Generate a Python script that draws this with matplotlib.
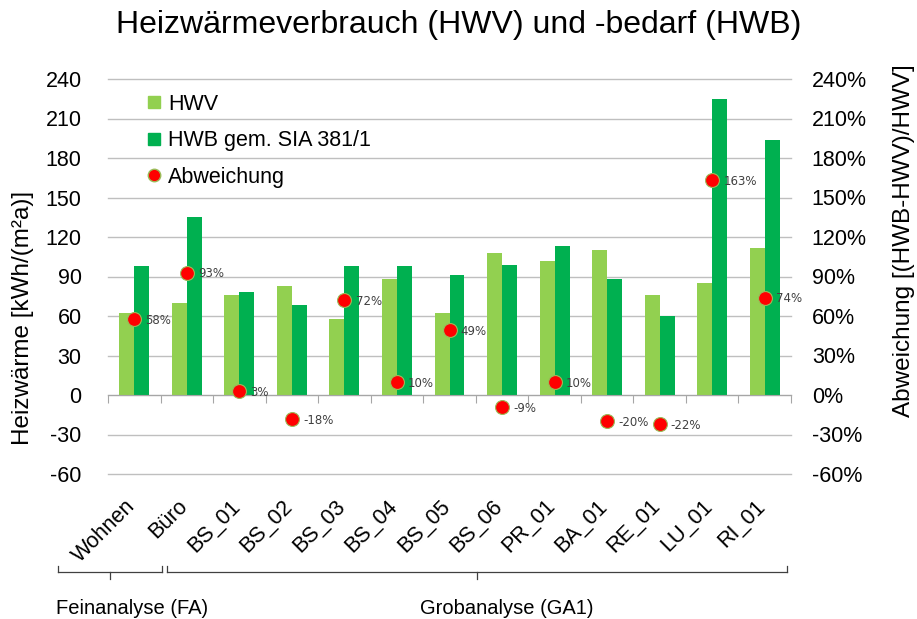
#!/usr/bin/env python3
import numpy as np
import matplotlib
matplotlib.use('Agg')
import matplotlib.pyplot as plt
import matplotlib.ticker as mticker
import matplotlib.transforms as mtrans
from matplotlib.lines import Line2D

plt.rcParams['font.family'] = ['Liberation Sans', 'DejaVu Sans']
plt.rcParams['axes.unicode_minus'] = False

# Daten
categories = ['Wohnen', 'Büro', 'BS_01', 'BS_02', 'BS_03', 'BS_04', 'BS_05',
              'BS_06', 'PR_01', 'BA_01', 'RE_01', 'LU_01', 'RI_01']
hwv = [62, 70, 76, 83, 58, 88, 62, 108, 102, 110, 76, 85, 112]
hwb = [98, 135, 78, 68, 98, 98, 91, 99, 113, 88, 60, 225, 194]
abweichung = [58, 93, 3, -18, 72, 10, 49, -9, 10, -20, -22, 163, 74]
yticks = [-60, -30, 0, 30, 60, 90, 120, 150, 180, 210, 240]

# Gruppen (Feinanalyse / Grobanalyse), x in Kategorie-Einheiten
group_labels = ['Feinanalyse (FA)', 'Grobanalyse (GA1)']
group_spans = [(-1.45, 0.53), (0.62, 12.42)]
group_ticks = [-0.46, 6.52]
group_text_x = [-0.04, 7.09]

c_hwv = '#92D050'
c_hwb = '#00B050'
c_grid = '#BFBFBF'

W, H = 917, 619
fig = plt.figure(figsize=(W / 100, H / 100), dpi=100)
ax = fig.add_axes([108 / W, 1 - 474 / H, (791 - 108) / W, (474 - 79) / H])

x = np.arange(len(categories))
bw = 0.285
ax.bar(x - bw / 2, hwv, width=bw, color=c_hwv, label='HWV', zorder=3)
ax.bar(x + bw / 2, hwb, width=bw, color=c_hwb, label='HWB gem. SIA 381/1',
       zorder=3)

ax.set_xlim(-0.5, len(categories) - 0.5)
ax.set_ylim(-60, 240)
ax.set_yticks(yticks)
ax.yaxis.grid(True, color=c_grid, linewidth=1.0, zorder=0)
for gl in ax.get_ygridlines():
    gl.set_clip_on(False)
ax.set_axisbelow(True)
for s in ['top', 'left', 'right']:
    ax.spines[s].set_visible(False)
ax.spines['bottom'].set_position(('data', 0))
ax.spines['bottom'].set_color('#A6A6A6')
ax.spines['bottom'].set_zorder(4)
ax.set_xticks(np.arange(-0.5, len(categories), 1.0))
ax.xaxis.set_major_formatter(mticker.NullFormatter())
ax.tick_params(axis='x', direction='out', length=6, color='#A6A6A6')
ax.tick_params(axis='y', length=0, labelsize=15.5, pad=19, colors='black')
ax.set_ylabel('Heizwärme [kWh/(m²a)]', fontsize=17.5, va='center')
ax.yaxis.set_label_coords((23 - 108) / 683, (474 - 318) / 395)

# Kategorien (gedreht)
trans_x = mtrans.blended_transform_factory(ax.transData, fig.transFigure)
for i, c in enumerate(categories):
    ax.text(i - 0.05, 1 - 503 / H, c, transform=trans_x, rotation=45,
            rotation_mode='anchor', ha='right', va='center', fontsize=15.5)

# Gruppenklammern
y_top = 1 - 566 / H
y_mid = 1 - 572 / H
y_bot = 1 - 579 / H
for (x0, x1), xm, xt, lab in zip(group_spans, group_ticks, group_text_x,
                                 group_labels):
    for xs, ys in [([x0, x0], [y_top, y_mid]), ([x1, x1], [y_top, y_mid]),
                   ([x0, x1], [y_mid, y_mid]), ([xm, xm], [y_mid, y_bot])]:
        ax.add_line(Line2D(xs, ys, transform=trans_x, color='#404040',
                           linewidth=0.9, clip_on=False))
    ax.text(xt, 1 - 608 / H, lab, transform=trans_x, ha='center',
            va='center', fontsize=14.5)

# Abweichung (rechte Achse)
ax2 = ax.twinx()
ax2.set_ylim(-60, 240)
ax2.set_yticks(yticks)
ax2.yaxis.set_major_formatter(mticker.PercentFormatter(decimals=0))
for s in ['top', 'left', 'right', 'bottom']:
    ax2.spines[s].set_visible(False)
ax2.tick_params(axis='y', length=0, labelsize=15.5, pad=15)
ax2.plot(x, abweichung, 'o', color='#FF0000', markersize=10,
         markeredgecolor='#9BBB59', markeredgewidth=0.8, label='Abweichung',
         zorder=5)
for xi, a in zip(x, abweichung):
    ax2.annotate('%d%%' % a, (xi, a), xytext=(8, -1), textcoords='offset points',
                 ha='left', va='center', fontsize=8.5, color='#404040',
                 family=['DejaVu Sans'])
ax2.set_ylabel('Abweichung [(HWB-HWV)/HWV]', fontsize=17.5, va='center')
ax2.yaxis.set_label_coords((904 - 108) / 683, (474 - 241) / 395)

# Legende
h1, l1 = ax.get_legend_handles_labels()
handles = [Line2D([], [], marker='s', linestyle='none', color=c_hwv,
                  markersize=8),
           Line2D([], [], marker='s', linestyle='none', color=c_hwb,
                  markersize=8),
           Line2D([], [], marker='o', linestyle='none', color='#FF0000',
                  markeredgecolor='#9BBB59', markersize=9)]
ax2.legend(handles, [l1[0], l1[1], 'Abweichung'], loc='upper left',
           bbox_to_anchor=(0.045, 0.985), frameon=False, fontsize=15.5,
           handlelength=0.6, handletextpad=0.35, labelspacing=0.72,
           borderaxespad=0)

fig.suptitle('Heizwärmeverbrauch (HWV) und -bedarf (HWB)', fontsize=23,
             y=1 - 25 / H, va='center')

plt.savefig('out.png', dpi=100)
plt.close()
